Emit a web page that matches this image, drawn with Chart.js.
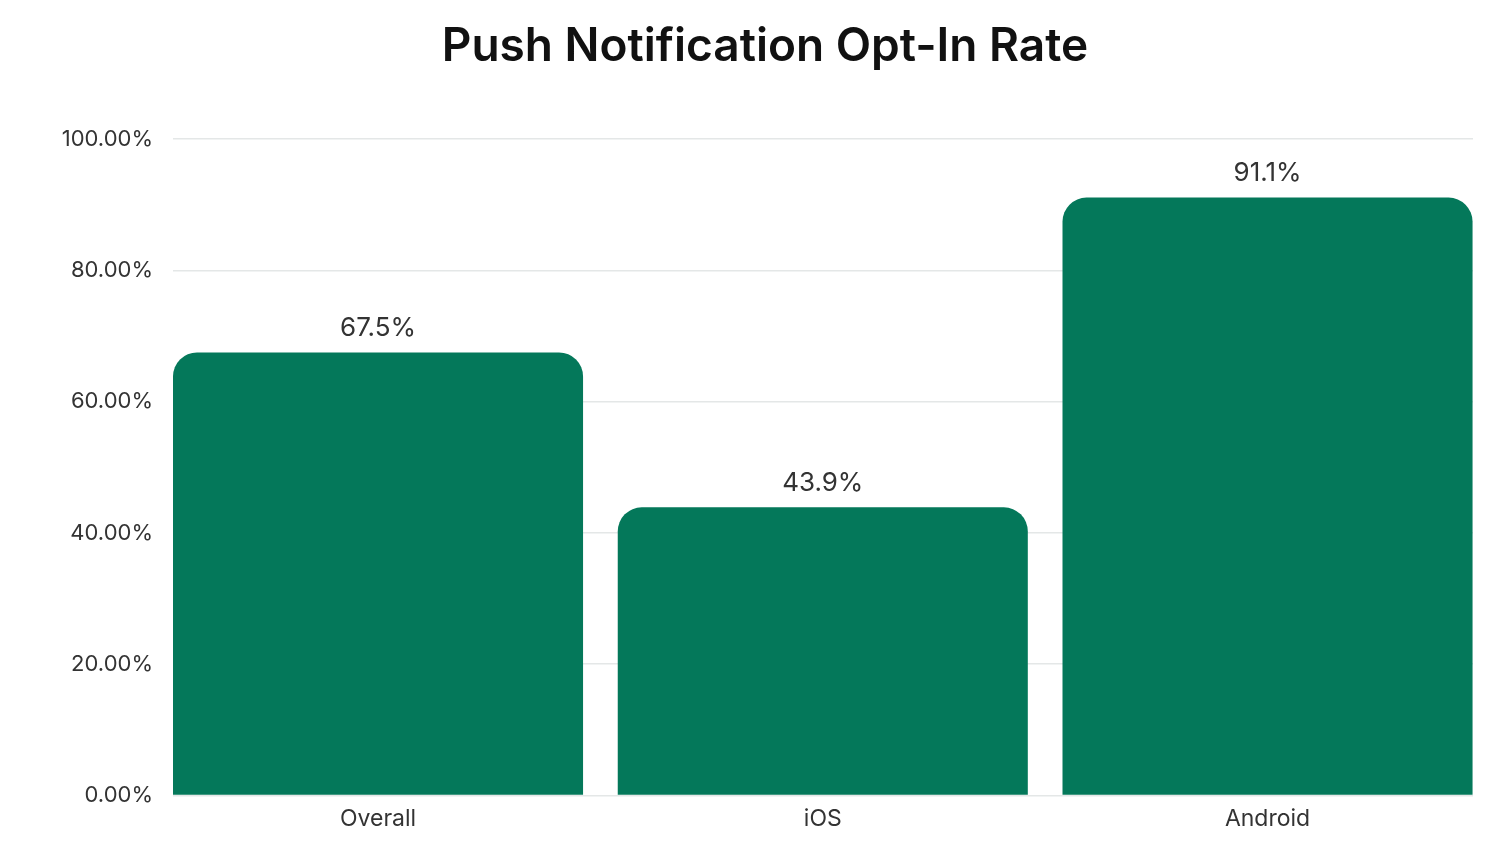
<!DOCTYPE html>
<html>
<head>
<meta charset="utf-8">
<script src="https://cdn.jsdelivr.net/npm/chart.js@4.4.0/dist/chart.umd.min.js"></script>
<style>
  html, body { margin: 0; padding: 0; background: #fff; }
  #wrap { width: 1500px; height: 857px; }
</style>
</head>
<body>
<div id="wrap"><canvas id="chart"></canvas></div>
<script>
const categories = ['Overall', 'iOS', 'Android']
const values = [67.5, 43.9, 91.1]
const valueLabels = ['67.5%', '43.9%', '91.1%']
const yTicks = [0, 20, 40, 60, 80, 100]

// values above bars
const barLabels = {
    id: 'barLabels',
    afterDatasetsDraw(chart) {
        const ctx = chart.ctx
        const meta = chart.getDatasetMeta(0)
        ctx.save()
        ctx.font = '400 26px Inter'
        ctx.fillStyle = '#333333'
        ctx.textAlign = 'center'
        ctx.textBaseline = 'bottom'
        meta.data.forEach(function(bar, i){
            ctx.fillText(valueLabels[i], bar.x, bar.y - 11)
        })
        ctx.restore()
    }
}

const ctx = document.getElementById('chart').getContext('2d')
const myChart = new Chart(ctx, {
    type: 'bar',
    data: {
        datasets: [{
            data: categories.map(function(c, i){ return {x: i, y: values[i]} }),
            backgroundColor: '#04785a',
            borderRadius: {topLeft: 24, topRight: 24, bottomLeft: 0, bottomRight: 0},
            borderSkipped: 'bottom',
            barPercentage: 0.922,
            categoryPercentage: 1
        }]
    },
    options: {
        responsive: true,
        maintainAspectRatio: false,
        animation: false,
        layout: {
            padding: {left: 57, right: 27, top: 0, bottom: 22}
        },
        scales: {
            x: {
                type: 'linear',
                offset: false,
                min: -0.461,
                max: 2.462,
                afterBuildTicks: function(scale){
                    scale.ticks = categories.map(function(c, i){ return {value: i} })
                },
                grid: {display: false},
                border: {display: false},
                ticks: {
                    padding: 2,
                    color: '#333333',
                    font: {family: 'Inter', size: 23},
                    callback: function(v){ return categories[v] }
                }
            },
            y: {
                min: 0,
                max: 100,
                afterBuildTicks: function(scale){
                    scale.ticks = yTicks.map(function(v){ return {value: v} })
                },
                afterFit: function(scale){ scale.width = 116 },
                border: {display: false},
                grid: {color: '#e4e7e7', lineWidth: 1.5, drawTicks: false},
                ticks: {
                    padding: 20,
                    color: '#333333',
                    font: {family: 'Inter', size: 22},
                    callback: function(v){ return v.toFixed(2) + '%' }
                }
            }
        },
        plugins: {
            legend: {display: false},
            tooltip: {enabled: false},
            title: {
                display: true,
                text: 'Push Notification Opt-In Rate',
                color: '#111111',
                font: {family: 'Inter', size: 46, weight: '600'},
                padding: {top: 20, bottom: 64}
            }
        }
    },
    plugins: [barLabels]
});
</script>
</body>
</html>
